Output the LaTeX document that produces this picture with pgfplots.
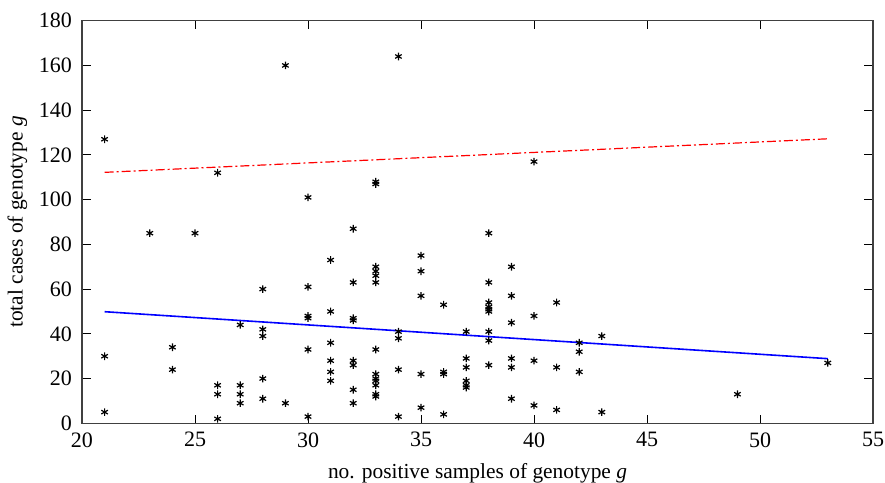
\documentclass[border=0pt]{standalone}
\usepackage{pgfplots}
\pgfplotsset{compat=1.18}
\usepackage{fontspec}
\setmainfont{Liberation Serif}
\begin{document}
\begin{tikzpicture}
\begin{axis}[
  scale only axis,
  width=395.5pt, height=201.3pt,
  xmin=20, xmax=55, ymin=0, ymax=180,
  xtick={20,25,...,55}, ytick={0,20,...,180},
  tick align=inside,
  major tick length=4.3pt,
  axis line style={line width=0.7pt, black!75},
  every tick/.style={black, line width=0.5pt},
  tick label style={font=\fontsize{11}{13}\selectfont},
  label style={font=\fontsize{10.7}{12.5}\selectfont},
  /pgf/number format/assume math mode=true,
  yticklabel style={xshift=-1.5pt},
  xticklabel style={yshift=-1pt},
  xlabel={no. positive samples of genotype \textit{g}},
  ylabel={total cases of genotype \textit{g}},
  xlabel style={yshift=-1pt},
  ylabel style={yshift=-1pt},
  clip=false,
]
\addplot[only marks, mark=asterisk, mark size=1.9pt, black, line width=0.6pt] coordinates {
(21,127) (21,30) (21,5)
(23,85)
(24,34) (24,24)
(25,85)
(26,112) (26,17) (26,13) (26,2)
(27,44) (27,17) (27,13) (27,9)
(28,60) (28,42) (28,39) (28,20) (28,11)
(29,160) (29,9)
(30,101) (30,61) (30,48) (30,47) (30,33) (30,3)
(31,73) (31,50) (31,36) (31,28) (31,23) (31,19)
(32,87) (32,63) (32,47) (32,46) (32,28) (32,26) (32,15) (32,9)
(33,108) (33,107) (33,70) (33,68) (33,66) (33,63) (33,33) (33,22) (33,20) (33,19) (33,17) (33,13) (33,12)
(34,164) (34,41) (34,38) (34,24) (34,3)
(35,75) (35,68) (35,57) (35,22) (35,7)
(36,53) (36,23) (36,22) (36,4)
(37,41) (37,29) (37,25) (37,19) (37,17) (37,16)
(38,85) (38,63) (38,54) (38,52) (38,51) (38,50) (38,41) (38,37) (38,26)
(39,70) (39,57) (39,45) (39,29) (39,25) (39,11)
(40,117) (40,48) (40,28) (40,8)
(41,54) (41,25) (41,6)
(42,36) (42,32) (42,23)
(43,39) (43,5)
(49,13)
(53,27)
};
\addplot[red, line width=0.6pt, dash pattern=on 4.5pt off 1.5pt on 1pt off 1.5pt] coordinates {(21,112.2) (53,127.2)};
\addplot[blue, line width=0.8pt] coordinates {(21,49.9) (53,28.9)};
\coordinate (bl) at (rel axis cs:0,0);
\coordinate (tr) at (rel axis cs:1,1);
\end{axis}
\pgfresetboundingbox
\path[use as bounding box] ([shift={(-41pt,-29.35pt)}]bl) rectangle ([shift={(6pt,10.35pt)}]tr);
\end{tikzpicture}
\end{document}
